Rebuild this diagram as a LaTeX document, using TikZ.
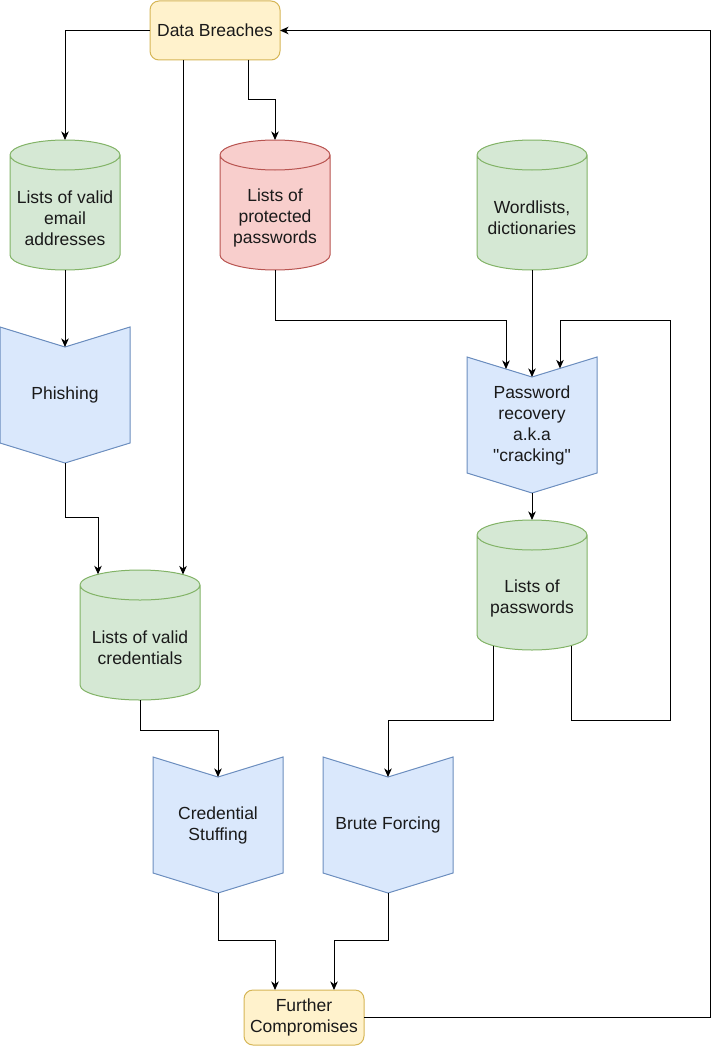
\documentclass[tikz,border=0pt]{standalone}
\usepackage{fontspec}
\setmainfont{Liberation Sans}
\usetikzlibrary{calc,arrows.meta,backgrounds}
\pgfdeclarelayer{paper}
\pgfsetlayers{paper,background,main}
\definecolor{yfill}{HTML}{FFF2CC}
\definecolor{ystroke}{HTML}{D6B656}
\definecolor{gfill}{HTML}{D5E8D4}
\definecolor{gstroke}{HTML}{82B366}
\definecolor{rfill}{HTML}{F8CECC}
\definecolor{rstroke}{HTML}{B85450}
\definecolor{bfill}{HTML}{DAE8FC}
\definecolor{bstroke}{HTML}{6C8EBF}
\definecolor{txt}{HTML}{1A1A1A}
\tikzset{
  base/.style={inner sep=0pt, outer sep=0pt, align=center, text=txt, font=\fontsize{17.5}{21}\selectfont},
  term/.style={base, rectangle, rounded corners=9pt, draw=ystroke, fill=yfill, line width=1pt, minimum width=130pt, minimum height=59pt},
  cylbox/.style={base, minimum width=110pt, minimum height=104pt},
  chevbox/.style={base, minimum width=130pt, minimum height=136pt},
  arr/.style={draw=black, line width=1pt, -{Stealth[length=8.5pt,width=7.5pt,inset=2.5pt]}},
}
\newcommand\cylshape[3]{%
  \begin{pgfonlayer}{background}
  \draw[line width=1pt, fill=#2, draw=#3] let \p1=(#1.north west), \p2=(#1.south east), \n1={(\x2-\x1)/2} in
    (\x1,\y1+11pt) -- (\x1,\y2+15pt) arc[start angle=180,end angle=360,x radius=\n1,y radius=15pt]
    -- (\x2,\y1+11pt) arc[start angle=0,end angle=180,x radius=\n1,y radius=15pt] -- cycle
    (\x1,\y1+11pt) arc[start angle=180,end angle=360,x radius=\n1,y radius=15pt];
  \end{pgfonlayer}
  \coordinate (#1-top) at ($(#1.north)+(0,-26)$);}
\newcommand\chevshape[1]{%
  \begin{pgfonlayer}{background}
  \draw[line width=1pt, fill=bfill, draw=bstroke] let \p1=(#1.north west), \p2=(#1.south east) in
    (\x1,\y1) -- ({(\x1+\x2)/2},\y1-20pt) -- (\x2,\y1) -- (\x2,\y2+20pt) -- ({(\x1+\x2)/2},\y2) -- (\x1,\y2+20pt) -- cycle;
  \end{pgfonlayer}}
\begin{document}
\begin{tikzpicture}[x=1pt,y=-1pt]
\begin{pgfonlayer}{paper}
\fill[white] (0,0) rectangle (719,1046);
\end{pgfonlayer}
\useasboundingbox (0,0) rectangle (719,1046);
% nodes
\node[term] (db) at (215,30.5) {Data Breaches};
\node[cylbox] (email) at (65,218) {Lists of valid\\email\\addresses};
\node[cylbox] (prot) at (275,218) {Lists of\\protected\\passwords};
\node[cylbox] (words) at (532,218) {Wordlists,\\dictionaries};
\node[chevbox] (phish) at (65,395) {Phishing};
\node[chevbox] (crack) at (532,425) {Password\\recovery\\a.k.a\\\textquotedbl cracking\textquotedbl};
\node[cylbox] (pw) at (532,598) {Lists of\\passwords};
\node[cylbox, minimum width=120pt] (cred) at (140,648) {Lists of valid\\credentials};
\node[chevbox] (stuff) at (218,825) {Credential\\Stuffing};
\node[chevbox] (brute) at (388,825) {Brute Forcing};
\node[term, minimum width=120pt, minimum height=55pt] (fc) at (304,1017.5) {Further\\Compromises};
% shapes
\cylshape{email}{gfill}{gstroke}
\cylshape{prot}{rfill}{rstroke}
\cylshape{words}{gfill}{gstroke}
\cylshape{pw}{gfill}{gstroke}
\cylshape{cred}{gfill}{gstroke}
\chevshape{phish}
\chevshape{crack}
\chevshape{stuff}
\chevshape{brute}
% connector end points
\coordinate (crack-l) at ($(crack.north)+(-26,12)$);
\coordinate (crack-m) at ($(crack.north)+(0,20)$);
\coordinate (crack-r) at ($(crack.north)+(28,11.4)$);
\coordinate (phish-m) at ($(phish.north)+(0,20)$);
\coordinate (stuff-m) at ($(stuff.north)+(0,20)$);
\coordinate (brute-m) at ($(brute.north)+(0,20)$);
\coordinate (cred-l) at ($(cred-top)+(-42,4.3)$);
\coordinate (cred-r) at ($(cred-top)+(43,4.5)$);
\coordinate (pw-bl) at ($(pw.south)+(-39,-4.4)$);
\coordinate (pw-br) at ($(pw.south)+(39,-4.4)$);
% connectors
\draw[arr] (db.west) -| (email-top);
\draw[arr] (db.south -| cred-r) -- (cred-r);
\draw[arr] ([xshift=33pt]db.south) -- ++(0,40) -| (prot-top);
\draw[arr] (prot.south) -- ++(0,50) -| (crack-l);
\draw[arr] (words.south) -- (crack-m);
\draw[arr] (crack.south) -- (pw-top);
\draw[arr] (pw-br) |- (670,720) -- (670,320) -| (crack-r);
\draw[arr] (pw-bl) |- ($(brute.north)+(0,-37)$) -- (brute-m);
\draw[arr] (email.south) -- (phish-m);
\draw[arr] (phish.south) -- ++(0,54) -| (cred-l);
\draw[arr] (cred.south) -- ++(0,30) -| (stuff-m);
\draw[arr] (stuff.south) -- ++(0,47) -| ([xshift=-29pt]fc.north);
\draw[arr] (brute.south) -- ++(0,47) -| ([xshift=30pt]fc.north);
\draw[arr] (fc.east) -- ++(346,0) |- (db.east);
\end{tikzpicture}
\end{document}
